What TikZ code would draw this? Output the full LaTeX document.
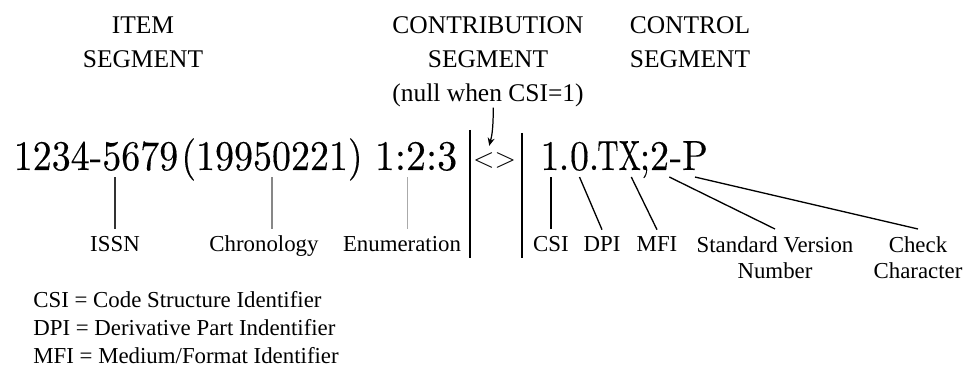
\documentclass[tikz,border=0pt]{standalone}
\usepackage{fontspec}
\usepackage{graphicx}
\usetikzlibrary{arrows.meta}
\newfontfamily\serifLabel{Liberation Serif}
\newfontfamily\numFace[FakeBold=0.25]{lmroman10-regular.otf}
\definecolor{tickDark}{RGB}{50,50,50}
\definecolor{tickMid}{RGB}{135,135,135}
\definecolor{tickLight}{RGB}{170,170,170}
\newcommand{\headfont}{\serifLabel\fontsize{14.5}{19.5}\selectfont}
\newcommand{\labelfont}{\serifLabel\fontsize{13}{14.8}\selectfont}
\newcommand{\keyfont}{\serifLabel\fontsize{13}{16}\selectfont}
\newcommand{\bignum}[2][0.9]{\scalebox{#1}[1]{\numFace\fontsize{24}{26}\selectfont #2}}

\begin{document}
\begin{tikzpicture}[x=0.02cm, y=-0.02cm,
    head/.style={inner sep=0pt, align=center, font=\headfont, anchor=north},
    piece/.style={inner xsep=0pt, inner ysep=4pt, anchor=base},
    lbl/.style={inner sep=4pt, anchor=base, align=center, font=\labelfont},
    tick/.style={line width=0.75pt},
    bar/.style={line width=0.9pt},
    nullarr/.style={-{Stealth[length=1.6mm, width=1.4mm]}, line width=0.7pt}
  ]
  \useasboundingbox (0,0) rectangle (964,367);

  % segment headings
  \node[head] (hitem) at (143,16) {ITEM\\SEGMENT};
  \node[head] (hcontrib) at (488,16) {CONTRIBUTION\\SEGMENT\\(null when CSI=1)};
  \node[head] (hcontrol) at (690,16) {CONTROL\\SEGMENT};

  % the identifier, piece by piece
  \node[piece] (issn) at (96,170) {\bignum[0.9]{1234-5679}};
  \node[piece] (chrono) at (272,170) {\bignum[0.9]{(19950221)}};
  \node[piece] (enum) at (416,170) {\bignum[0.95]{1:2:3}};
  \node[piece] (nullpc) at (494.5,168) {\fontsize{16}{18}\selectfont <>};
  \node[piece] (csi) at (550,170) {\bignum{1}};
  \node[piece] (dotA) at (564,170) {\bignum{.}};
  \node[piece] (dpi) at (579.5,170) {\bignum{0}};
  \node[piece] (dotB) at (594,170) {\bignum{.}};
  \node[piece] (mfi) at (619,170) {\bignum[0.7]{TX}};
  \node[piece] (semi) at (645,170) {\bignum{;}};
  \node[piece] (svn) at (659.5,170) {\bignum{2}};
  \node[piece] (dash) at (676,170) {\bignum{-}};
  \node[piece] (chk) at (695,170) {\bignum{P}};

  % part labels
  \node[lbl] (lissn) at (115,252) {ISSN};
  \node[lbl] (lchrono) at (264,252) {Chronology};
  \node[lbl] (lenum) at (402,252) {Enumeration};
  \node[lbl] (lcsi) at (551,252) {CSI};
  \node[lbl] (ldpi) at (602,252) {DPI};
  \node[lbl] (lmfi) at (657,252) {MFI};
  \node[lbl, anchor=north] (lsvn) at (775,229) {Standard Version\\Number};
  \node[lbl, anchor=north] (lchk) at (918,229) {Check\\Character};

  % key
  \node[anchor=north west, inner sep=0pt, align=left, font=\keyfont] (key) at (33,291)
    {CSI = Code Structure Identifier\\DPI = Derivative Part Indentifier\\MFI = Medium/Format Identifier};

  % segment separators
  \draw[bar] (470,130) -- (470,258);
  \draw[bar] (522,133) -- (522,258);

  \draw[nullarr] ([xshift=3pt]hcontrib.south) .. controls +(0,25) and +(2,-8) .. ([xshift=-3pt]nullpc.north);

  \draw[tick, tickDark] ([yshift=-4pt]issn.base -| lissn.north) -- (lissn.north);
  \draw[tick, tickMid] ([yshift=-4pt]chrono.base) -- (chrono.base |- lchrono.north);
  \draw[tick, tickLight] ([xshift=3pt, yshift=-4pt]lenum.north |- enum.base) -- ([xshift=3pt]lenum.north);
  \draw[tick] ([yshift=-4pt]csi.base -| lcsi.north) -- (lcsi.north);
  \draw[tick] ([yshift=-4pt]dpi.base) -- (ldpi.north);
  \draw[tick] ([xshift=7pt, yshift=-4pt]mfi.base) -- (lmfi.north);
  \draw[tick] ([yshift=-4pt]svn.base east) -- (lsvn.north);
  \draw[tick] ([yshift=-4pt]chk.base) -- (lchk.north);
\end{tikzpicture}
\end{document}
